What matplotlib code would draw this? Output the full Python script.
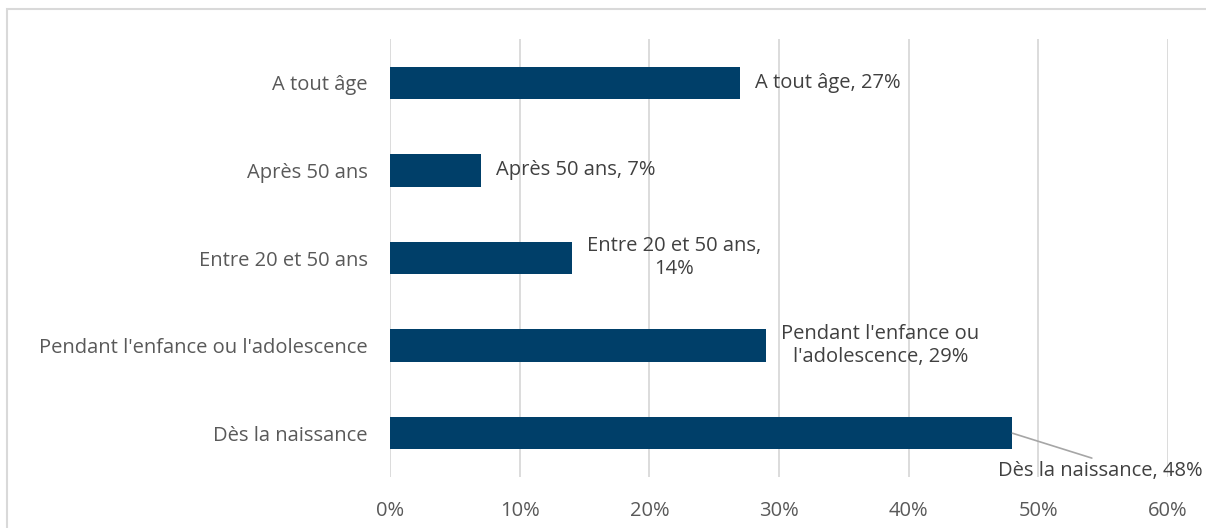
import matplotlib.pyplot as plt
from matplotlib.patches import Rectangle

# Data
categories = ["Dès la naissance", "Pendant l'enfance ou l'adolescence",
              "Entre 20 et 50 ans", "Après 50 ans", "A tout âge"]
values = [48, 29, 14, 7, 27]
bar_labels = ["Dès la naissance, 48%", "Pendant l'enfance ou\nl'adolescence, 29%",
              "Entre 20 et 50 ans,\n14%", "Après 50 ans, 7%", "A tout âge, 27%"]
xticks = [0, 10, 20, 30, 40, 50, 60]

plt.rcParams['font.family'] = ['Open Sans', 'DejaVu Sans']
W, H = 1206, 528
fig = plt.figure(figsize=(W / 100, H / 100), dpi=100)
ax = fig.add_axes([390 / W, 1 - 477 / H, (1168 - 390) / W, (477 - 39) / H])

# Outer chart border (cut off at right and bottom)
fig.patches.append(Rectangle((7 / W, -0.1), 2, 1 - 9 / H + 0.1, transform=fig.transFigure,
                             fill=False, edgecolor='#D9D9D9', linewidth=1.5))

fs = 14.5
ypos = range(len(categories))
ax.barh(ypos, values, height=0.37, color='#003F69', zorder=3)
ax.set_xlim(0, 60)
ax.set_ylim(-0.5, 4.5)
ax.set_xticks(xticks)
ax.set_xticklabels([f"{t}%" for t in xticks], color='#595959', fontsize=fs)
ax.set_yticks(list(ypos))
ax.set_yticklabels(categories, color='#595959', fontsize=fs)
ax.tick_params(axis='x', length=0, pad=17)
ax.tick_params(axis='y', length=0, pad=16)
for s in ax.spines.values():
    s.set_visible(False)
ax.grid(axis='x', color='#D9D9D9', linewidth=1.3, zorder=0)

tc = '#404040'
for i, (v, lab) in enumerate(zip(values, bar_labels)):
    if i == 0:
        ax.annotate(lab, xy=(v, i), xytext=(62.7, i - 0.43), fontsize=fs, color=tc,
                    ha='right', va='center',
                    arrowprops=dict(arrowstyle='-', color='#A6A6A6', lw=1.2,
                                    shrinkA=0, shrinkB=0, relpos=(0.5, 1.0)),
                    annotation_clip=False)
    else:
        ax.annotate(lab, xy=(v, i), xytext=(11, 0), textcoords='offset points',
                    fontsize=fs, color=tc, ha='left', va='center', multialignment='center')

fig.savefig('out.png', dpi=100)
